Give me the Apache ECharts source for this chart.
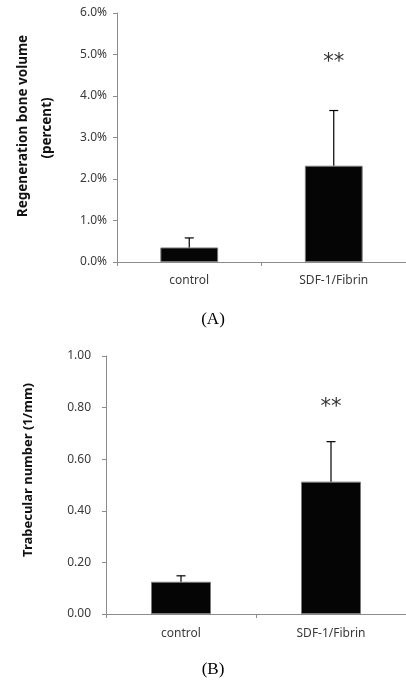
<!DOCTYPE html>
<html>
<head>
<meta charset="utf-8">
<script src="https://cdn.jsdelivr.net/npm/echarts@6/dist/echarts.min.js"></script>
<style>
html,body{margin:0;padding:0;background:#fff;}
#c{width:406px;height:686px;}
</style>
</head>
<body>
<div id="c"></div>
<script>
// Data
var categories = ['control', 'SDF-1/Fibrin'];
// Panel A: regeneration bone volume (percent)
var boneVolume = [0.35, 2.32];
var boneVolumeErrTop = [0.58, 3.65];
var boneVolumeSig = ['', '**'];
var boneVolumeSigY = [null, 4.8];
var boneVolumeTicks = [0, 1, 2, 3, 4, 5, 6];
// Panel B: trabecular number (1/mm)
var trabNumber = [0.125, 0.513];
var trabNumberErrTop = [0.148, 0.668];
var trabNumberSig = ['', '**'];
var trabNumberSigY = [null, 0.80];
var trabNumberTicks = [0, 0.2, 0.4, 0.6, 0.8, 1.0];

var chart = echarts.init(document.getElementById('c'));
var tickFont = {fontFamily: 'Noto Sans', fontSize: 12, color: '#3a3a3a'};
var axisLineStyle = {color: '#8c8c8c', width: 1};

function errSeries(xi, yi, vals, tops) {
  return {
    type: 'custom', xAxisIndex: xi, yAxisIndex: yi, z: 5,
    data: vals.map(function (v, i) { return [i, v, tops[i]]; }),
    renderItem: function (params, api) {
      var p0 = api.coord([api.value(0), api.value(1)]);
      var p1 = api.coord([api.value(0), api.value(2)]);
      var cap = 4.5;
      return {
        type: 'group',
        children: [
          {type: 'line', shape: {x1: p0[0], y1: p0[1], x2: p1[0], y2: p1[1]}, style: {stroke: '#000', lineWidth: 1.2}},
          {type: 'line', shape: {x1: p1[0] - cap, y1: p1[1], x2: p1[0] + cap, y2: p1[1]}, style: {stroke: '#000', lineWidth: 1.2}}
        ]
      };
    }
  };
}
function sigSeries(xi, yi, labels, ys) {
  return {
    type: 'custom', xAxisIndex: xi, yAxisIndex: yi, z: 6,
    data: labels.map(function (l, i) { return [i, ys[i] == null ? 0 : ys[i], l]; }),
    renderItem: function (params, api) {
      var idx = params.dataIndex;
      var txt = labels[idx];
      if (!txt) return null;
      var p = api.coord([api.value(0), api.value(1)]);
      return {type: 'text', style: {x: p[0], y: p[1], text: txt, align: 'center', verticalAlign: 'middle',
        font: '21px "DejaVu Sans"', fill: '#333'}};
    }
  };
}

chart.setOption({
  animation: false,
  backgroundColor: '#fff',
  grid: [
    {left: 117, top: 13, width: 294, height: 249},
    {left: 106, top: 356, width: 302, height: 258}
  ],
  xAxis: [
    {type: 'category', gridIndex: 0, data: categories, boundaryGap: true,
     axisLine: {lineStyle: axisLineStyle}, axisTick: {show: true, length: 4, lineStyle: axisLineStyle},
     axisLabel: Object.assign({margin: 13}, tickFont)},
    {type: 'category', gridIndex: 1, data: categories, boundaryGap: true,
     axisLine: {lineStyle: axisLineStyle}, axisTick: {show: true, length: 4, lineStyle: axisLineStyle},
     axisLabel: Object.assign({margin: 14}, tickFont)}
  ],
  yAxis: [
    {type: 'value', gridIndex: 0, min: boneVolumeTicks[0], max: boneVolumeTicks[boneVolumeTicks.length - 1], interval: 1,
     axisLine: {show: true, lineStyle: axisLineStyle}, axisTick: {show: true, length: 4, lineStyle: axisLineStyle},
     splitLine: {show: false},
     axisLabel: Object.assign({margin: 10, formatter: function (v) { return v.toFixed(1) + '%'; }}, tickFont)},
    {type: 'value', gridIndex: 1, min: trabNumberTicks[0], max: trabNumberTicks[trabNumberTicks.length - 1], interval: 0.2,
     axisLine: {show: true, lineStyle: axisLineStyle}, axisTick: {show: true, length: 4, lineStyle: axisLineStyle},
     splitLine: {show: false},
     axisLabel: Object.assign({margin: 15, formatter: function (v) { return v.toFixed(2); }}, tickFont)}
  ],
  series: [
    {type: 'bar', xAxisIndex: 0, yAxisIndex: 0, data: boneVolume, barWidth: '40%',
     itemStyle: {color: '#050505', borderColor: '#7a7a7a', borderWidth: 1}},
    errSeries(0, 0, boneVolume, boneVolumeErrTop),
    sigSeries(0, 0, boneVolumeSig, boneVolumeSigY),
    {type: 'bar', xAxisIndex: 1, yAxisIndex: 1, data: trabNumber, barWidth: '40%',
     itemStyle: {color: '#050505', borderColor: '#7a7a7a', borderWidth: 1}},
    errSeries(1, 1, trabNumber, trabNumberErrTop),
    sigSeries(1, 1, trabNumberSig, trabNumberSigY)
  ],
  graphic: [
    {type: 'text', x: 23, y: 126, rotation: Math.PI / 2, style: {text: 'Regeneration bone volume', align: 'center', verticalAlign: 'middle',
      font: 'bold 13.5px "Noto Sans"', fill: '#111'}},
    {type: 'text', x: 47, y: 128, rotation: Math.PI / 2, style: {text: '(percent)', align: 'center', verticalAlign: 'middle',
      font: 'bold 13.5px "Noto Sans"', fill: '#111'}},
    {type: 'text', x: 28, y: 470, rotation: Math.PI / 2, style: {text: 'Trabecular number (1/mm)', align: 'center', verticalAlign: 'middle',
      font: 'bold 13px "Noto Sans"', fill: '#111'}},
    {type: 'text', x: 213, y: 320, style: {text: '(A)', align: 'center', verticalAlign: 'middle',
      font: '17px "Liberation Serif"', fill: '#000'}},
    {type: 'text', x: 213, y: 670, style: {text: '(B)', align: 'center', verticalAlign: 'middle',
      font: '17px "Liberation Serif"', fill: '#000'}}
  ]
});
</script>
</body>
</html>
